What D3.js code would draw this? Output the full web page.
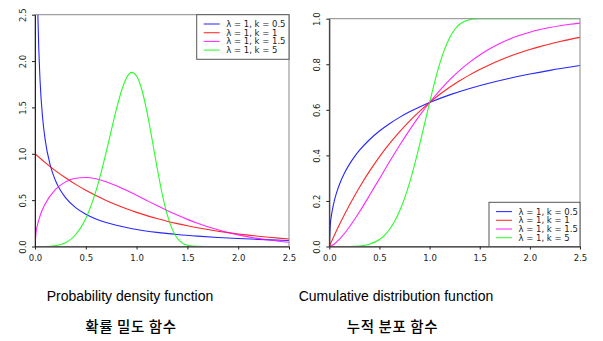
<!DOCTYPE html>
<html>
<head>
<meta charset="utf-8">
<script src="https://cdn.jsdelivr.net/npm/d3@7"></script>
<style>
  html, body { margin: 0; padding: 0; background: #fff; }
  svg { display: block; }
</style>
</head>
<body>
<svg id="chart" width="603" height="341"></svg>
<script>
// ---------------- DATA ----------------
const seriesLabels = ["λ = 1, k = 0.5", "λ = 1, k = 1", "λ = 1, k = 1.5", "λ = 1, k = 5"];
const seriesColors = ["#0000ff", "#ff0000", "#ff00ff", "#00ff00"];

// k = 0.5
const x05   = [0, 0.01, 0.02, 0.03, 0.05, 0.075, 0.1, 0.15, 0.2, 0.25, 0.3, 0.4, 0.5, 0.6, 0.7, 0.8, 0.9, 1.0, 1.2, 1.4, 1.6, 1.8, 2.0, 2.2, 2.5];
const pdf05 = [null, 4.524, 3.069, 2.428, 1.788, 1.388, 1.153, 0.8764, 0.7149, 0.6065, 0.5279, 0.4200, 0.3487, 0.2975, 0.2588, 0.2285, 0.2041, 0.1839, 0.1526, 0.1294, 0.1116, 0.0974, 0.0860, 0.0765, 0.0650];
const cdf05 = [0, 0.0952, 0.1319, 0.1590, 0.2004, 0.2396, 0.2711, 0.3211, 0.3606, 0.3935, 0.4217, 0.4687, 0.5069, 0.5391, 0.5669, 0.5912, 0.6127, 0.6321, 0.6656, 0.6937, 0.7177, 0.7386, 0.7569, 0.7731, 0.7943];

// k = 1
const x1   = [0, 0.1, 0.2, 0.3, 0.4, 0.5, 0.6, 0.7, 0.8, 0.9, 1.0, 1.1, 1.2, 1.3, 1.4, 1.5, 1.6, 1.7, 1.8, 1.9, 2.0, 2.1, 2.2, 2.3, 2.4, 2.5];
const pdf1 = [1, 0.9048, 0.8187, 0.7408, 0.6703, 0.6065, 0.5488, 0.4966, 0.4493, 0.4066, 0.3679, 0.3329, 0.3012, 0.2725, 0.2466, 0.2231, 0.2019, 0.1827, 0.1653, 0.1496, 0.1353, 0.1225, 0.1108, 0.1003, 0.0907, 0.0821];
const cdf1 = [0, 0.0952, 0.1813, 0.2592, 0.3297, 0.3935, 0.4512, 0.5034, 0.5507, 0.5934, 0.6321, 0.6671, 0.6988, 0.7275, 0.7534, 0.7769, 0.7981, 0.8173, 0.8347, 0.8504, 0.8647, 0.8775, 0.8892, 0.8997, 0.9093, 0.9179];

// k = 1.5
const x15   = [0, 0.01, 0.02, 0.05, 0.1, 0.2, 0.3, 0.4, 0.5, 0.6, 0.7, 0.8, 0.9, 1.0, 1.1, 1.2, 1.3, 1.4, 1.5, 1.6, 1.7, 1.8, 1.9, 2.0, 2.1, 2.2, 2.3, 2.4, 2.5];
const pdf15 = [0, 0.1498, 0.2115, 0.3317, 0.4595, 0.6134, 0.6971, 0.7366, 0.7448, 0.7301, 0.6987, 0.6560, 0.6059, 0.5518, 0.4963, 0.4414, 0.3885, 0.3387, 0.2926, 0.2507, 0.2132, 0.1799, 0.1507, 0.1254, 0.1036, 0.0851, 0.0695, 0.0564, 0.0455];
const cdf15 = [0, 0.0010, 0.0028, 0.0111, 0.0311, 0.0856, 0.1515, 0.2235, 0.2978, 0.3717, 0.4433, 0.5111, 0.5742, 0.6321, 0.6845, 0.7314, 0.7729, 0.8092, 0.8407, 0.8679, 0.8910, 0.9106, 0.9271, 0.9409, 0.9523, 0.9617, 0.9694, 0.9757, 0.9808];

// k = 5
const x5   = [0, 0.1, 0.2, 0.3, 0.4, 0.5, 0.55, 0.6, 0.65, 0.7, 0.75, 0.8, 0.85, 0.9, 0.95, 1.0, 1.05, 1.1, 1.15, 1.2, 1.25, 1.3, 1.35, 1.4, 1.45, 1.5, 1.6, 1.7, 2.0, 2.5];
const pdf5 = [0, 0.0005, 0.0080, 0.0404, 0.1267, 0.3029, 0.4351, 0.5995, 0.7948, 1.0148, 1.2478, 1.4758, 1.6747, 1.8177, 1.8785, 1.8394, 1.6960, 1.4625, 1.1702, 0.8612, 0.5771, 0.3485, 0.1877, 0.0886, 0.0364, 0.0128, 0.0009, 0, 0, 0];
const cdf5 = [0, 0, 0.0003, 0.0024, 0.0102, 0.0308, 0.0491, 0.0748, 0.1096, 0.1547, 0.2113, 0.2794, 0.3584, 0.4459, 0.5387, 0.6321, 0.7209, 0.8002, 0.8662, 0.9169, 0.9527, 0.9756, 0.9887, 0.9954, 0.9984, 0.9995, 1, 1, 1, 1];

const xTicks    = [0, 0.5, 1.0, 1.5, 2.0, 2.5];
const pdfYTicks = [0, 0.5, 1.0, 1.5, 2.0, 2.5];
const cdfYTicks = [0, 0.2, 0.4, 0.6, 0.8, 1.0];

const titlesEn = ["Probability density function", "Cumulative distribution function"];
const titlesKo = ["확률 밀도 함수", "누적 분포 함수"];

// ---------------- BUILD ----------------
const pdfSeries = [[x05, pdf05], [x1, pdf1], [x15, pdf15], [x5, pdf5]];
const cdfSeries = [[x05, cdf05], [x1, cdf1], [x15, cdf15], [x5, cdf5]];

const svg = d3.select("#chart");
const tickFont = "'DejaVu Sans', sans-serif";

const panels = [
  { id: "pdf", series: pdfSeries, yMax: 2.5, yTicks: pdfYTicks, yFmt: d3.format(".1f"),
    x0: 35, x1: 289, yTop: 14.7, yBot: 246.5,
    legend: { x: 196.7, y: 14.7, w: 92.3, h: 44.6 },
    titleX: 130, koX: 131 },
  { id: "cdf", series: cdfSeries, yMax: 1.0, yTicks: cdfYTicks, yFmt: d3.format(".1f"),
    x0: 329.3, x1: 580, yTop: 18.7, yBot: 246.5,
    legend: { x: 489, y: 202.3, w: 91, h: 44.2 },
    titleX: 396, koX: 392.5 }
];

panels.forEach((p, pi) => {
  const x = d3.scaleLinear().domain([0, 2.5]).range([p.x0, p.x1]);
  const y = d3.scaleLinear().domain([0, p.yMax]).range([p.yBot, p.yTop]);
  const g = svg.append("g");

  svg.append("clipPath").attr("id", "clip-" + p.id)
    .append("rect").attr("x", p.x0).attr("y", p.yTop)
    .attr("width", p.x1 - p.x0).attr("height", p.yBot - p.yTop);

  // curves
  const line = d3.line()
    .defined(d => d[1] !== null)
    .x(d => x(d[0])).y(d => y(d[1]))
    .curve(d3.curveMonotoneX);

  const curves = g.append("g").attr("clip-path", `url(#clip-${p.id})`);
  p.series.forEach((s, i) => {
    const pts = s[0].map((xv, j) => [xv, s[1][j]]);
    curves.append("path")
      .attr("d", line(pts))
      .attr("fill", "none")
      .attr("stroke", seriesColors[i])
      .attr("stroke-width", 1.1)
      .attr("stroke-opacity", 0.85);
  });

  // frame (gray)
  g.append("rect")
    .attr("x", p.x0).attr("y", p.yTop)
    .attr("width", p.x1 - p.x0).attr("height", p.yBot - p.yTop)
    .attr("fill", "none").attr("stroke", "#888").attr("stroke-width", 1);

  // x axis
  const xa = g.append("g").attr("transform", `translate(0,${p.yBot})`)
    .call(d3.axisBottom(x).tickValues(xTicks).tickFormat(d3.format(".1f"))
      .tickSize(3).tickSizeOuter(0).tickPadding(5));
  xa.select(".domain").attr("stroke", "#222");
  xa.selectAll(".tick line").attr("stroke", "#222");
  xa.selectAll("text").attr("font-family", tickFont).attr("font-size", 8.5).attr("fill", "#222");

  // y axis
  const ya = g.append("g").attr("transform", `translate(${p.x0},0)`)
    .call(d3.axisLeft(y).tickValues(p.yTicks).tickFormat(p.yFmt)
      .tickSize(3).tickSizeOuter(0));
  ya.select(".domain").attr("stroke", "#222");
  ya.selectAll(".tick line").attr("stroke", "#222");
  ya.selectAll("text")
    .attr("x", null).attr("dy", "0.35em")
    .attr("text-anchor", "middle")
    .attr("transform", "translate(-12,0) rotate(-90)")
    .attr("font-family", tickFont).attr("font-size", 8.5).attr("fill", "#222");

  // legend
  const L = p.legend;
  const lg = g.append("g");
  lg.append("rect").attr("x", L.x).attr("y", L.y).attr("width", L.w).attr("height", L.h)
    .attr("fill", "#fff").attr("stroke", "#555").attr("stroke-width", 1);
  const step = 8.7;
  seriesLabels.forEach((lab, i) => {
    const cy = L.y + 9.3 + i * step;
    lg.append("line")
      .attr("x1", L.x + 7).attr("x2", L.x + 23)
      .attr("y1", cy).attr("y2", cy)
      .attr("stroke", seriesColors[i]).attr("stroke-width", 1.1).attr("stroke-opacity", 0.8);
    lg.append("text")
      .attr("x", L.x + 29.5).attr("y", cy).attr("dy", "0.35em")
      .attr("font-family", tickFont).attr("font-size", 8.5).attr("fill", "#222")
      .text(lab);
  });

  // titles
  svg.append("text")
    .attr("x", p.titleX).attr("y", 301)
    .attr("text-anchor", "middle")
    .attr("font-family", "'Liberation Sans', Arial, sans-serif")
    .attr("font-size", 14).attr("fill", "#000")
    .text(titlesEn[pi]);
  svg.append("text")
    .attr("x", p.koX).attr("y", 331.5)
    .attr("text-anchor", "middle")
    .attr("font-family", "'Noto Sans CJK KR', sans-serif")
    .attr("font-size", 14.5).attr("font-weight", 500)
    .attr("letter-spacing", 0.6).attr("fill", "#000")
    .text(titlesKo[pi]);
});
</script>
</body>
</html>
